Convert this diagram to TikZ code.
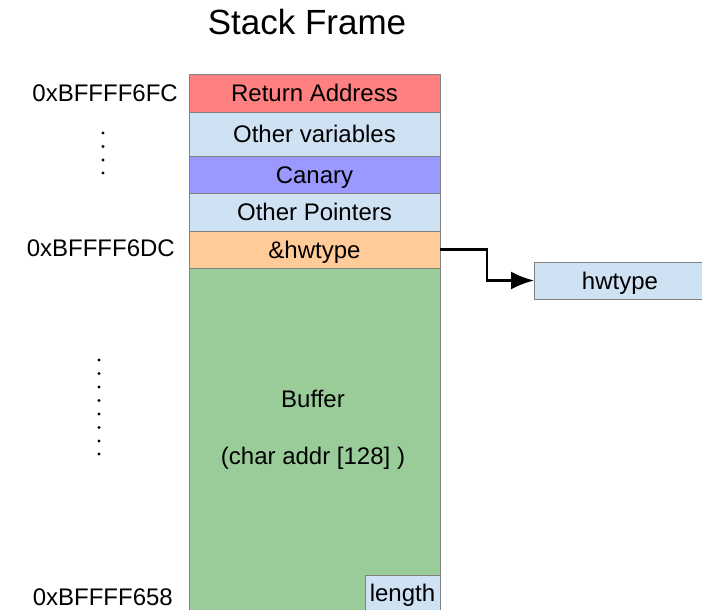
\documentclass[tikz,border=0pt]{standalone}
\usepackage{fontspec}
\setmainfont{Liberation Sans}
\usetikzlibrary{positioning,arrows.meta}

\definecolor{retred}{RGB}{255,128,128}
\definecolor{varblue}{RGB}{207,226,243}
\definecolor{canblue}{RGB}{153,153,255}
\definecolor{ptrorange}{RGB}{255,204,153}
\definecolor{bufgreen}{RGB}{153,204,153}

\tikzset{
  cell/.style={draw=gray, line width=0.8pt, minimum width=251pt, inner sep=0pt,
    outer sep=0pt, text height=17pt, text depth=0pt, font=\fontsize{24}{28}\selectfont},
  addr/.style={anchor=east, inner sep=0pt, font=\fontsize{24}{28}\selectfont},
  txt/.style={inner sep=0pt, font=\fontsize{24}{28}\selectfont}
}

\begin{document}
\begin{tikzpicture}[x=1pt,y=-1pt]
\useasboundingbox (0,0) rectangle (702,610);

\node[inner sep=0pt, font=\fontsize{35}{40}\selectfont] (title) at (307,22) {Stack Frame};

% the frame, top down
\node[cell, fill=retred, minimum height=38pt] (ret) at (314.5,93) {Return Address};
\node[cell, fill=varblue, minimum height=44pt, below=0pt of ret] (othvar) {Other variables};
\node[cell, fill=canblue, minimum height=37pt, below=0pt of othvar] (canary) {Canary};
\node[cell, fill=varblue, minimum height=38pt, below=0pt of canary] (othptr) {Other Pointers};
\node[cell, fill=ptrorange, minimum height=37pt, below=0pt of othptr] (hwptr) {\&hwtype};
\node[cell, fill=bufgreen, minimum height=345pt, below=0pt of hwptr] (buf) {};
\node[txt] (buflbl) at (313,399) {Buffer};
\node[txt] (bufdecl) at (313,458) {(char addr [128] )};
\node[cell, fill=varblue, minimum width=75pt, minimum height=36pt, anchor=north east] (len) at (440,575) {length};

% pointed-to object
\node[cell, fill=varblue, minimum width=172pt, minimum height=37pt, anchor=west] (hwtype) at (534,280.5) {hwtype};
\draw[line width=2.2pt, -{Latex[length=23pt,width=18pt]}] (hwptr.east) -- ++(47,0) |- (hwtype.west);

% addresses
\node[addr] (a6fc) at (178,93) {0xBFFFF6FC};
\node[addr] (a6dc) at (175,248) {0xBFFFF6DC};
\node[addr] (a658) at (173,597) {0xBFFFF658};

\foreach \y in {133,146.5,160,173} \fill (103,\y) circle (1.6);
\foreach \y in {360,373.5,387,400.5,414,427.5,441,454} \fill (99,\y) circle (1.6);
\end{tikzpicture}
\end{document}
